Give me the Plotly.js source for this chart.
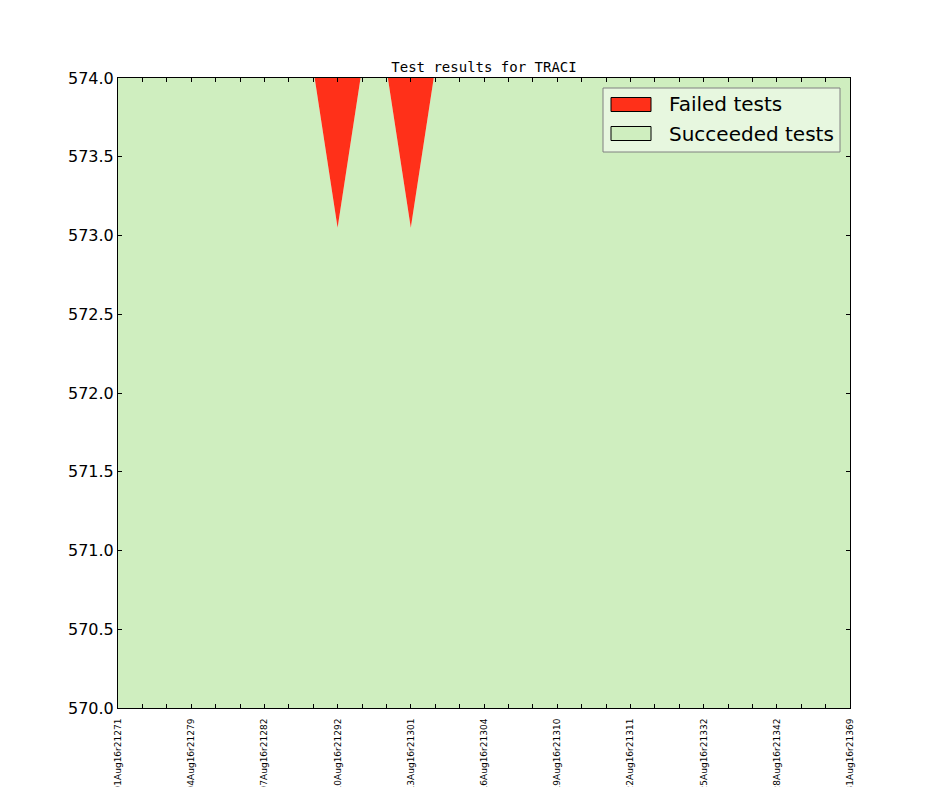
<!DOCTYPE html>
<html>
<head>
<meta charset="utf-8">
<script src="https://cdn.plot.ly/plotly-3.0.1.min.js"></script>
<style>html,body{margin:0;padding:0;background:#fff;}#chart{width:944px;height:787px;}</style>
</head>
<body>
<div id="chart"></div>
<script>
// Day index 0..30 (one build per day)
const days = [0,1,2,3,4,5,6,7,8,9,10,11,12,13,14,15,16,17,18,19,20,21,22,23,24,25,26,27,28,29,30];
const succeeded = [574.06,574.06,574.06,574.06,574.06,574.06,574.06,574.06,574.06,573.05,574.06,574.06,573.05,574.06,574.06,574.06,574.06,574.06,574.06,574.06,574.06,574.06,574.06,574.06,574.06,574.06,574.06,574.06,574.06,574.06,574.06];
const failed = [0,0,0,0,0,0,0,0,0,1.01,0,0,1.01,0,0,0,0,0,0,0,0,0,0,0,0,0,0,0,0,0,0];
const labelPos = [0,3,6,9,12,15,18,21,24,27,30];
const labelText = ["01Aug16r21271","04Aug16r21279","07Aug16r21282","10Aug16r21292","13Aug16r21301","16Aug16r21304","19Aug16r21310","22Aug16r21311","25Aug16r21332","28Aug16r21342","31Aug16r21369"];
const yTicks = [570.0,570.5,571.0,571.5,572.0,572.5,573.0,573.5,574.0];
const seriesNames = ["Failed tests","Succeeded tests"];

const red = '#ff3019';
const green = '#cfeebf';
const seriesColors = [red, green];

const traces = [
  {x: days, y: succeeded, type:'scatter', mode:'lines', stackgroup:'s', fillcolor: green,
   line:{width:0, color: green}, showlegend:false, hoverinfo:'skip', name: seriesNames[1]},
  {x: days, y: failed, type:'scatter', mode:'lines', stackgroup:'s', fillcolor: red,
   line:{width:0, color: red}, showlegend:false, hoverinfo:'skip', name: seriesNames[0]}
];

// plot area in pixels
const L = 118, R = 850, T = 78, B = 708;
const px = v => (v - L) / (R - L);
const py = v => (B - v) / (B - T);

// hand-drawn legend, matplotlib style
const shapes = [
  {type:'rect', xref:'paper', yref:'paper', x0:px(603), x1:px(840), y0:py(152), y1:py(88),
   fillcolor:'rgba(255,255,255,0.5)', line:{color:'#808080', width:1}, layer:'above'}
];
const annotations = [];
const rowY = [104.5, 133.5];
seriesNames.forEach((n, i) => {
  shapes.push({type:'rect', xref:'paper', yref:'paper', x0:px(611), x1:px(651), y0:py(rowY[i]+7), y1:py(rowY[i]-7),
    fillcolor: seriesColors[i], line:{color:'#000', width:1}, layer:'above'});
  annotations.push({xref:'paper', yref:'paper', x:px(667), y:py(rowY[i]), xanchor:'left', yanchor:'middle',
    text:n, showarrow:false, font:{family:'DejaVu Sans', size:20, color:'#000'}});
});

const layout = {
  width: 944, height: 787,
  margin: {l:118, r:94, t:78, b:79, pad:0},
  paper_bgcolor:'#fff', plot_bgcolor:'#fff',
  title: {text:'Test results for TRACI', font:{family:'DejaVu Sans Mono', size:14, color:'#000'},
          x:0.5, xref:'paper', xanchor:'center', y:1-67/787, yref:'container', yanchor:'middle'},
  showlegend: false,
  shapes: shapes,
  annotations: annotations,
  xaxis: {range:[0,30], tickmode:'array', tickvals: labelPos, ticktext: labelText,
          tickangle:-90, tickfont:{family:'DejaVu Sans', size:9, color:'#000'}, ticklabelstandoff:6,
          ticks:'inside', ticklen:4, tickcolor:'#000', tickwidth:1,
          minor:{dtick:1, tick0:0, ticks:'inside', ticklen:4, tickcolor:'#000', showgrid:false},
          showline:true, linecolor:'#000', linewidth:1, mirror:'ticks',
          showgrid:false, zeroline:false, automargin:false, fixedrange:true},
  yaxis: {range:[570,574], tickmode:'array', tickvals: yTicks, ticktext: yTicks.map(v=>v.toFixed(1)),
          tickfont:{family:'DejaVu Sans', size:16, color:'#000'},
          ticks:'inside', ticklen:4, tickcolor:'#000', tickwidth:1,
          showline:true, linecolor:'#000', linewidth:1, mirror:'ticks',
          showgrid:false, zeroline:false, automargin:false, fixedrange:true}
};

Plotly.newPlot('chart', traces, layout, {staticPlot:true, displayModeBar:false});
</script>
</body>
</html>
